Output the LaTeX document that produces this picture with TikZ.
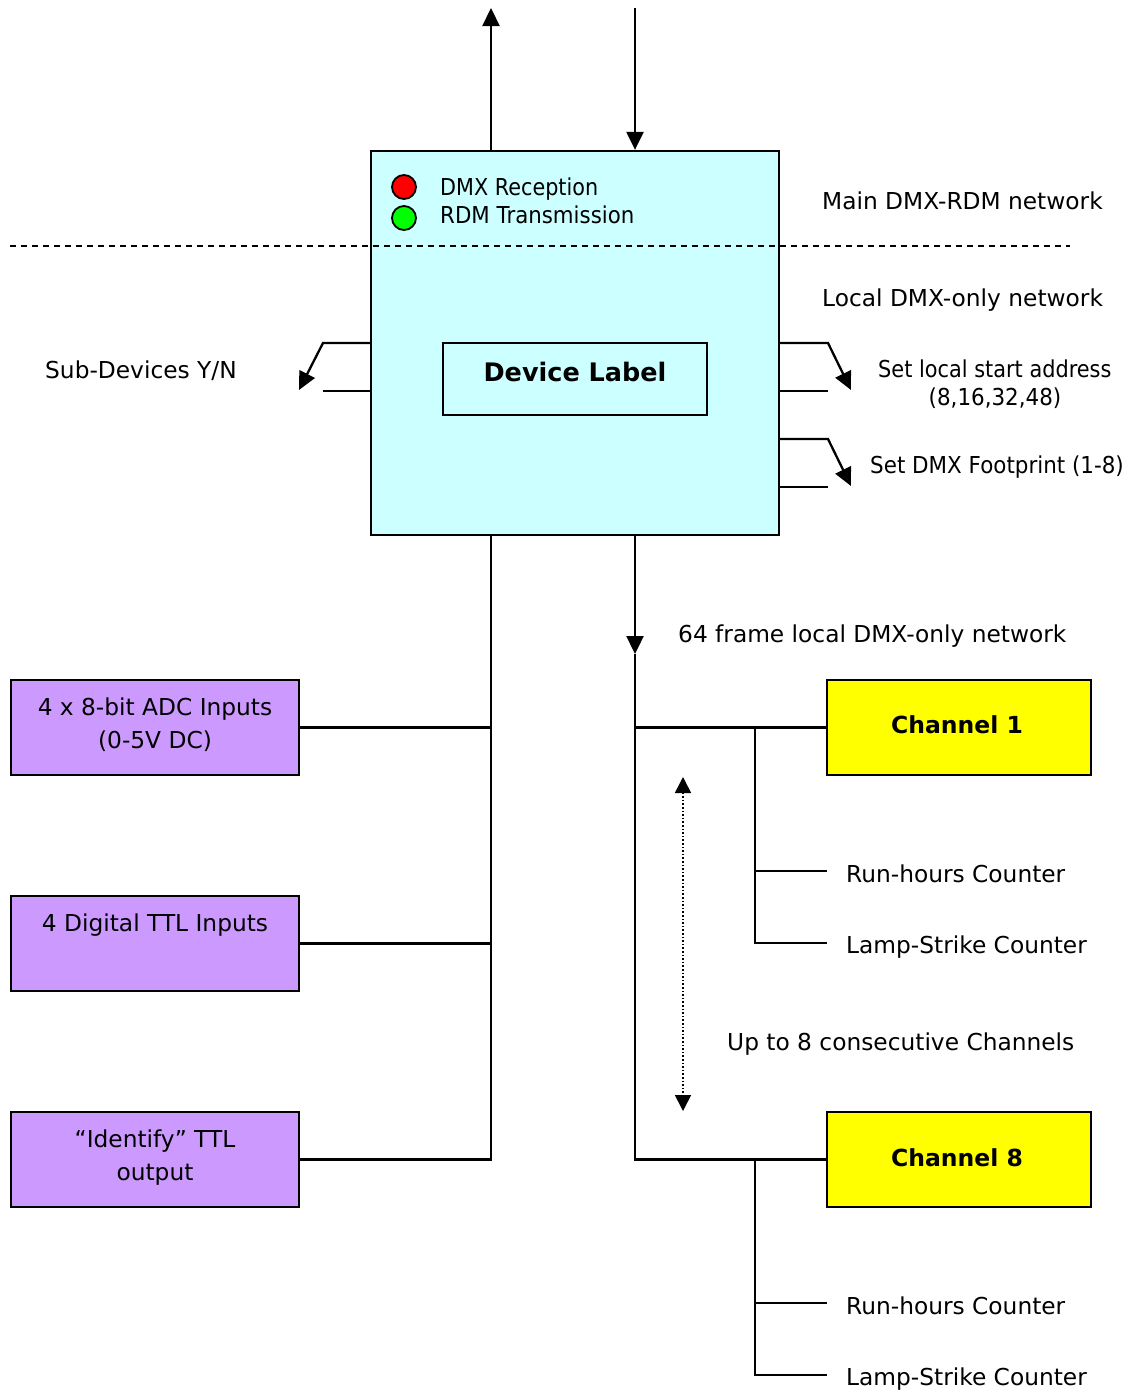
\documentclass[tikz,border=0pt]{standalone}
\usepackage{fontspec}
\setmainfont{DejaVu Sans}
\usetikzlibrary{arrows.meta,calc}
\definecolor{boxcyan}{HTML}{CCFFFF}
\definecolor{boxlav}{HTML}{CC99FF}
\definecolor{boxyel}{HTML}{FFFF00}
\definecolor{ledred}{HTML}{FF0000}
\definecolor{ledgreen}{HTML}{00FF00}
\newcommand{\sqz}[2]{\scalebox{#1}[1]{#2}}
\begin{document}
\begin{tikzpicture}[x=1pt,y=-1pt,
  every node/.style={font=\fontsize{23.3}{28}\selectfont, inner sep=0pt},
  ln/.style={line width=2.3pt},
  arr/.style={ln,-{Triangle[length=18pt,width=17pt]}},
  lbl/.style={anchor=base west},
  clbl/.style={anchor=base},
  boxstyle/.style={draw, line width=2.3pt, rectangle},
  inbox/.style={boxstyle, fill=boxlav, minimum width=288, minimum height=95},
  chbox/.style={boxstyle, fill=boxyel, minimum width=264, minimum height=95},
  led/.style={circle, draw, line width=1.8pt, minimum size=24}
]
\useasboundingbox (0,0) rectangle (1131,1393);

% main device box
\node[boxstyle, fill=boxcyan, minimum width=408, minimum height=384] (main) at (575,343) {};
\node[boxstyle, minimum width=264, minimum height=72] (dev) at (575,379) {};
\node[clbl, font=\fontsize{25.5}{30}\selectfont\bfseries] (devT) at (575,381.5) {Device Label};

% LEDs
\node[led, fill=ledred] (ledR) at (404,187) {};
\node[led, fill=ledgreen] (ledG) at (404,218) {};
\node[lbl] (ledRT) at (440,195) {\sqz{0.89}{DMX Reception}};
\node[lbl] (ledGT) at (440,223) {\sqz{0.915}{RDM Transmission}};

% network boundary
\coordinate (dashL) at (10,246);
\coordinate (dashR) at (1070,246);
\draw[line width=1.6pt, dash pattern=on 6pt off 5pt] (dashL) -- (dashR);
\node[lbl] (mainNet) at (822,209.5) {Main DMX-RDM network};
\node[lbl] (localNet) at (822,306) {Local DMX-only network};

% top connectors
\coordinate (upT) at (491,8);
\coordinate (dnT) at (635,8);
\draw[arr] (upT |- main.north) -- (upT);
\draw[arr] (dnT) -- (dnT |- main.north);

% left switch
\coordinate (lsA) at (323,343);
\coordinate (lsTip) at (299,390);
\coordinate (lsB) at (323,391);
\draw[arr] (main.west) -- (lsA) -- (lsTip);
\draw[ln] (main.west |- lsB) -- (lsB);
\node[lbl] (subT) at (45,378.5) {Sub-Devices Y/N};

% right switches
\coordinate (rsA) at (828,343);
\coordinate (rsTip) at (851,390);
\coordinate (rsB) at (828,391);
\draw[arr] (main.east) -- (rsA) -- (rsTip);
\draw[ln] (main.east |- rsB) -- (rsB);
\node[lbl] (startT) at (878,377.5) {\sqz{0.895}{Set local start address}};
\node[clbl] (startT2) at (995,405.5) {\sqz{0.92}{(8,16,32,48)}};

\coordinate (rtA) at (828,439);
\coordinate (rtTip) at (851,486);
\coordinate (rtB) at (828,487);
\draw[arr] (main.east |- rtA) -- (rtA) -- (rtTip);
\draw[ln] (main.east |- rtB) -- (rtB);
\node[lbl] (footT) at (870,473.5) {\sqz{0.92}{Set DMX Footprint (1-8)}};

% left input boxes
\node[inbox] (adc) at (155,727.5) {};
\node[clbl] (adcT1) at (155,715.5) {4 x 8-bit ADC Inputs};
\node[clbl] (adcT2) at (155,748.5) {(0-5V DC)};
\node[inbox] (ttl) at (155,943.5) {};
\node[clbl] (ttlT) at (155,931.5) {4 Digital TTL Inputs};
\node[inbox] (ident) at (155,1159.5) {};
\node[clbl] (identT1) at (155,1147.5) {“Identify” TTL};
\node[clbl] (identT2) at (155,1180.5) {output};

\draw[ln] (upT |- main.south) -- (upT |- ident.east) -- (ident.east);
\draw[ln] (adc.east) -- (adc.east -| upT);
\draw[ln] (ttl.east) -- (ttl.east -| upT);

% local network
\coordinate (locArr) at (635,654);
\draw[arr] (dnT |- main.south) -- (locArr);
\node[lbl] (locT) at (678,642.5) {64 frame local DMX-only network};

\node[chbox] (ch1) at (959,727.5) {};
\node[clbl, font=\fontsize{23.5}{28}\selectfont\bfseries] (ch1T) at (957,733.5) {Channel 1};
\node[chbox] (ch8) at (959,1159.5) {};
\node[clbl, font=\fontsize{23.5}{28}\selectfont\bfseries] (ch8T) at (957,1166.5) {Channel 8};

\draw[ln] (locArr) -- (dnT |- ch8.west) -- (ch8.west);
\draw[ln] (ch1.west) -- (ch1.west -| dnT);

% channel 1 counters
\coordinate (c1top) at (755,727.5);
\coordinate (c1a) at (827,871);
\coordinate (c1b) at (827,943);
\draw[ln] (c1top) -- (c1top |- c1b) -- (c1b);
\draw[ln] (c1top |- c1a) -- (c1a);
\node[lbl] (c1aT) at (846,882.5) {Run-hours Counter};
\node[lbl] (c1bT) at (846,953.5) {Lamp-Strike Counter};

% channel 8 counters
\coordinate (c8top) at (755,1159.5);
\coordinate (c8a) at (827,1303);
\coordinate (c8b) at (827,1375);
\draw[ln] (c8top) -- (c8top |- c8b) -- (c8b);
\draw[ln] (c8top |- c8a) -- (c8a);
\node[lbl] (c8aT) at (846,1314.5) {Run-hours Counter};
\node[lbl] (c8bT) at (846,1385.5) {Lamp-Strike Counter};

% range arrow
\coordinate (rngT) at (683,777);
\coordinate (rngB) at (683,1111);
\draw[line width=1.6pt, dotted, {Triangle[length=16pt,width=16pt]}-{Triangle[length=16pt,width=16pt]}] (rngT) -- (rngB);
\node[lbl] (rngTxt) at (727,1050.5) {Up to 8 consecutive Channels};

\end{tikzpicture}
\end{document}
